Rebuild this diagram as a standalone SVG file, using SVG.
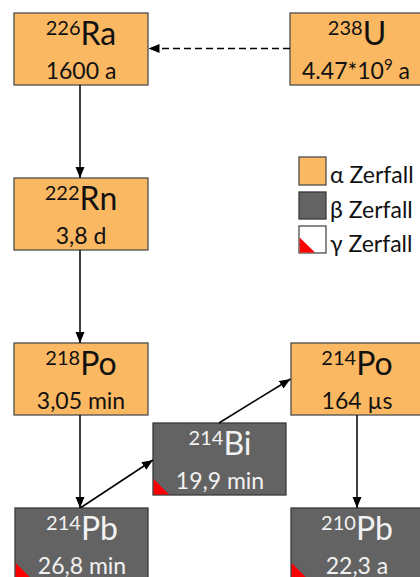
<svg xmlns="http://www.w3.org/2000/svg" width="420" height="577" viewBox="0 0 420 577">
  <style>
    .alpha { fill: #FBB862; stroke: #4D4D4D; stroke-width: 1.3; }
    .beta { fill: #636363; stroke: #3A3A3A; stroke-width: 1.3; }
    .gamma { fill: #FF0000; stroke: none; }
    .key { fill: #FFFFFF; stroke: #4D4D4D; stroke-width: 1.3; }
    text { font-family: Lato, "Open Sans", sans-serif; text-anchor: middle; }
    .dark { fill: #111111; }
    .light { fill: #F2F2F2; }
    .sym { font-size: 32px; }
    .sup { font-size: 20px; }
    .val { font-size: 23px; }
    .legend { font-size: 23px; text-anchor: start; fill: #111111; }
    .link { stroke: #000000; stroke-width: 1.5; fill: none; marker-end: url(#arrow); }
    .dashed { stroke-dasharray: 7 4; stroke-width: 1.7; }
  </style>
  <defs>
    <marker id="arrow" markerUnits="userSpaceOnUse" markerWidth="12" markerHeight="10" refX="11" refY="4.5" orient="auto">
      <path d="M0,0 L11,4.5 L0,9 z" fill="#000000"/>
    </marker>
  </defs>

  <rect width="420" height="577" fill="#FFFFFF"/>

  <!-- Ra-226 -->
  <g id="ra226">
    <rect class="alpha" x="14" y="13" width="134" height="72"/>
    <text class="dark sym" x="81" y="44.5"><tspan class="sup" dy="-10">226</tspan><tspan dy="10">Ra</tspan></text>
    <text class="dark val" x="81" y="78.5">1600 a</text>
  </g>

  <!-- U-238 -->
  <g id="u238">
    <rect class="alpha" x="290" y="13" width="134" height="72"/>
    <text class="dark sym" x="357" y="44.5"><tspan class="sup" dy="-10">238</tspan><tspan dy="10">U</tspan></text>
    <text class="dark val" x="356" y="78.5">4.47*10<tspan font-size="15" dy="-9">9</tspan><tspan dy="9"> a</tspan></text>
  </g>

  <!-- Rn-222 -->
  <g id="rn222">
    <rect class="alpha" x="14" y="178" width="134" height="72"/>
    <text class="dark sym" x="81" y="209.5"><tspan class="sup" dy="-10">222</tspan><tspan dy="10">Rn</tspan></text>
    <text class="dark val" x="81" y="243.5">3,8 d</text>
  </g>

  <!-- Po-218 -->
  <g id="po218">
    <rect class="alpha" x="14" y="343" width="134" height="72"/>
    <text class="dark sym" x="81" y="374.5"><tspan class="sup" dy="-10">218</tspan><tspan dy="10">Po</tspan></text>
    <text class="dark val" x="81" y="408.5">3,05 min</text>
  </g>

  <!-- Po-214 -->
  <g id="po214">
    <rect class="alpha" x="291" y="343" width="134" height="72"/>
    <text class="dark sym" x="357" y="374.5"><tspan class="sup" dy="-10">214</tspan><tspan dy="10">Po</tspan></text>
    <text class="dark val" x="357" y="408.5">164 µs</text>
  </g>

  <!-- Bi-214 -->
  <g id="bi214">
    <rect class="beta" x="153" y="423" width="133" height="72"/>
    <path class="gamma" d="M153.6,479 L153.6,494.4 L169,494.4 z"/>
    <text class="light sym" x="220" y="454.5"><tspan class="sup" dy="-10">214</tspan><tspan dy="10">Bi</tspan></text>
    <text class="light val" x="220" y="488.5">19,9 min</text>
  </g>

  <!-- Pb-214 -->
  <g id="pb214">
    <rect class="beta" x="15" y="508" width="133" height="80"/>
    <path class="gamma" d="M15.6,563 L15.6,578.4 L31,578.4 z"/>
    <text class="light sym" x="82" y="539.5"><tspan class="sup" dy="-10">214</tspan><tspan dy="10">Pb</tspan></text>
    <text class="light val" x="82" y="573.5">26,8 min</text>
  </g>

  <!-- Pb-210 -->
  <g id="pb210">
    <rect class="beta" x="291" y="508" width="133" height="80"/>
    <path class="gamma" d="M291.6,563 L291.6,578.4 L307,578.4 z"/>
    <text class="light sym" x="357" y="539.5"><tspan class="sup" dy="-10">210</tspan><tspan dy="10">Pb</tspan></text>
    <text class="light val" x="357" y="573.5">22,3 a</text>
  </g>

  <!-- Legend -->
  <g id="legend">
    <rect class="alpha" x="299" y="157" width="27" height="28"/>
    <text class="legend" x="330" y="183">α Zerfall</text>
    <rect class="beta" x="299" y="192" width="27" height="27"/>
    <text class="legend" x="330" y="218">β Zerfall</text>
    <rect class="key" x="299" y="226" width="27" height="27"/>
    <path class="gamma" d="M299.6,237.5 L299.6,252.4 L315,252.4 z"/>
    <text class="legend" x="330" y="252">γ Zerfall</text>
  </g>

  <!-- Decay connectors -->
  <g id="connectors">
    <line class="link dashed" x1="290" y1="48.5" x2="148.5" y2="48.5"/>
    <line class="link" x1="80" y1="85" x2="80" y2="178"/>
    <line class="link" x1="80" y1="250" x2="80" y2="343"/>
    <line class="link" x1="80" y1="415" x2="80" y2="508"/>
    <line class="link" x1="81" y1="507.5" x2="153" y2="460"/>
    <line class="link" x1="219" y1="423" x2="290.5" y2="379"/>
    <line class="link" x1="357" y1="415" x2="357" y2="508"/>
  </g>
</svg>
